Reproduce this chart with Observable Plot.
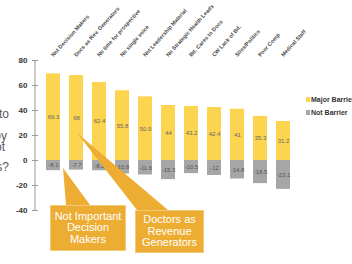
<!DOCTYPE html>
<html>
<head>
<meta charset="utf-8">
<script src="https://cdn.jsdelivr.net/npm/d3@7"></script>
<script src="https://cdn.jsdelivr.net/npm/@observablehq/plot@0.6"></script>
<style>
  html, body { margin: 0; padding: 0; background: #fff; }
  #wrap { position: relative; width: 352px; height: 264px; overflow: hidden; font-family: "Liberation Sans", Arial, sans-serif; }
  #wrap svg { position: absolute; left: 0; top: 0; }
  .q { position: absolute; white-space: nowrap; font-size: 12px; color: #595959; line-height: 10px; text-align: right; }
  .box { position: absolute; background: #EDAD33; border: 1px solid #F2C977; color: #fff; font-size: 11px; line-height: 11.5px; text-align: center; display: flex; align-items: center; justify-content: center; box-sizing: border-box; }
  .leg { position: absolute; left: 306px; font-size: 7px; font-weight: bold; color: #333; white-space: nowrap; display: flex; align-items: center; }
  .leg i { display: inline-block; width: 4px; height: 5px; margin-right: 1px; }
</style>
</head>
<body>
<div id="wrap"></div>
<script>
const categories = [
  "Not Decision Makers", "Docs as Rev. Generators", "No time for prospective",
  "No single voice", "Not Leadership Material", "No Strategic Health Leads",
  "Bd. Cares to Docs", "CW Lack of Bd.", "Silos/Politics",
  "Poor Comp", "Medical Staff"
];
const majorBarrier = [69.3, 68, 62.4, 55.8, 50.9, 44, 43.2, 42.4, 41.0, 35.3, 31.2];
const notBarrier = [-8.1, -7.7, -8.2, -10.8, -11.6, -15.3, -10.5, -12, -14.8, -18.5, -23.1];
const seriesNames = ["Major Barrier", "Not Barrier"];
const yTicks = [-40, -20, 0, 20, 40, 60, 80];
const callouts = [
  {text: ["Not Important", "Decision", "Makers"], cat: 0, value: -6.4, offset: 10},
  {text: ["Doctors as", "Revenue", "Generators"], cat: 1, value: 21.6, offset: 1}
];
const questionLines = ["to", "by", "not", "leaders?"];

const colors = ["#FDD44F", "#A6A6A6"];
const rows = categories.map((c, i) => ({cat: c, major: majorBarrier[i], not: notBarrier[i]}));
const fmt = v => String(v);

const plot = Plot.plot({
  width: 352,
  height: 264,
  marginLeft: 35,
  marginRight: 50,
  marginTop: 60,
  marginBottom: 54,
  style: {fontFamily: "'Liberation Sans', Arial, sans-serif", background: "transparent"},
  x: {domain: categories, padding: 0.38, axis: null},
  y: {domain: [-40, 80], axis: null},
  marks: [
    Plot.barY(rows, {x: "cat", y: "major", fill: colors[0]}),
    Plot.barY(rows, {x: "cat", y: "not", fill: colors[1]}),
    Plot.text(rows, {x: "cat", y: d => d.major / 2, text: d => fmt(d.major), fontSize: 6, fill: "#666"}),
    Plot.text(rows, {x: "cat", y: d => d.not / 2, text: d => fmt(d.not), fontSize: 6, fill: "#555"}),
    Plot.axisY({ticks: yTicks, tickSize: 6, dx: 3, tickPadding: 5, tickFormat: d => String(d), stroke: "#999", fill: "#333", fontWeight: "bold", fontSize: 8}),
    Plot.text(categories, {x: d => d, frameAnchor: "top", dy: -6, dx: -3, rotate: -48, textAnchor: "start", fontSize: 5.5, fontWeight: "bold", fill: "#444"})
  ]
});

const wrap = document.getElementById("wrap");
wrap.appendChild(plot);

const xs = plot.scale("x"), ys = plot.scale("y");
const svg = d3.select(plot);
// y axis line
svg.append("line")
  .attr("x1", 35).attr("x2", 35)
  .attr("y1", ys.apply(80)).attr("y2", ys.apply(-40))
  .attr("stroke", "#999").attr("stroke-width", 1);

// callout wedges
const bases = [[66, 90, 205], [137, 168, 210]];
callouts.forEach((c, i) => {
  const tx = xs.apply(categories[c.cat]) + xs.bandwidth / 2 + c.offset;
  const ty = ys.apply(c.value);
  const b = bases[i];
  svg.append("polygon")
    .attr("points", `${tx},${ty} ${b[0]},${b[2]} ${b[1]},${b[2]}`)
    .attr("fill", "#EDAD33");
});

// callout boxes
const boxPos = [[50, 205, 76, 46], [135, 210, 69, 43]];
callouts.forEach((c, i) => {
  const d = document.createElement("div");
  d.className = "box";
  const p = boxPos[i];
  d.style.left = p[0] + "px"; d.style.top = p[1] + "px";
  d.style.width = p[2] + "px"; d.style.height = p[3] + "px";
  d.innerHTML = c.text.join("<br>");
  wrap.appendChild(d);
});

// legend
seriesNames.forEach((s, i) => {
  const d = document.createElement("div");
  d.className = "leg";
  d.style.top = (96 + i * 13) + "px";
  d.innerHTML = `<i style="background:${colors[i]}"></i>${s}`;
  wrap.appendChild(d);
});

// cut-off question text on the left
const qPos = [[109, 9], [130.5, 7], [141.5, 5], [162, 9]];
questionLines.forEach((t, i) => {
  const d = document.createElement("div");
  d.className = "q";
  d.style.top = qPos[i][0] + "px";
  d.style.right = (352 - qPos[i][1]) + "px";
  d.textContent = t;
  wrap.appendChild(d);
});
</script>
</body>
</html>
